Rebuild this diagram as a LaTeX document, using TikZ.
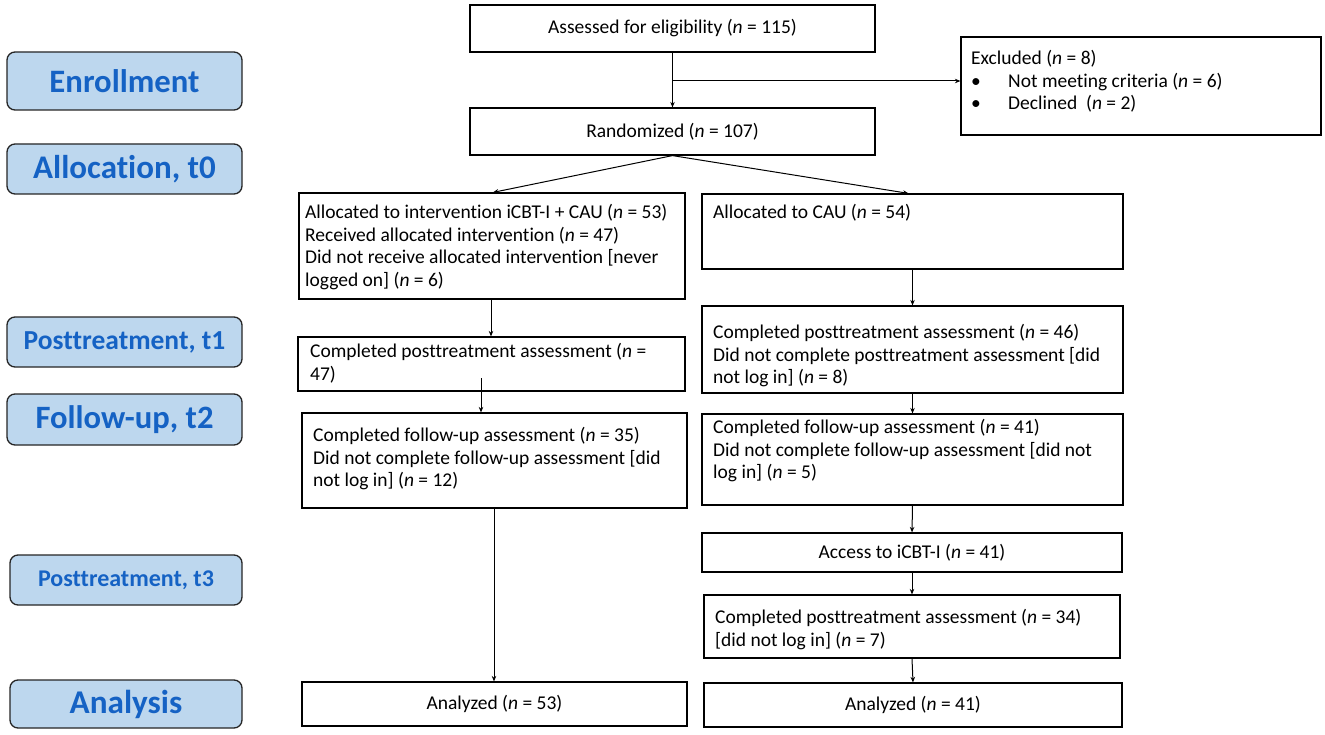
\documentclass[tikz,border=0pt]{standalone}
\usepackage{fontspec}
\setmainfont{Carlito}[Ligatures=NoCommon]
\usetikzlibrary{arrows.meta}
\definecolor{lblfill}{HTML}{BDD7EE}
\definecolor{lbltext}{HTML}{1562C4}
\definecolor{lbldraw}{HTML}{262626}
\newcommand\flowbox[5]{\node[box, minimum width={(#4-#2)*1pt}, minimum height={(#5-#3)*1pt}] (#1) at ({(#2+#4)/2},{(#3+#5)/2})}
\newcommand\lblbox[7]{\node[lbl, minimum width={(#4-#2)*1pt}, minimum height={(#5-#3)*1pt}, font=\fontsize{#6}{#6}\selectfont\bfseries] (#1) at ({(#2+#4)/2},{(#3+#5)/2}) {#7};}
\newcommand\nn{\textit{n}}
\begin{document}
\begin{tikzpicture}[x=1pt,y=-1pt,
  box/.style={draw, line width=1.2pt, inner sep=0pt, font=\fontsize{19.5}{22.5}\selectfont},
  txt/.style={inner sep=0pt, align=left, anchor=north west, font=\fontsize{19.5}{22.5}\selectfont},
  lbl/.style={draw=lbldraw, fill=lblfill, rounded corners=8pt, line width=1.3pt, text=lbltext, inner sep=0pt},
  arr/.style={-{Stealth[length=5.5pt,width=4.5pt]}, line width=1pt}]
\useasboundingbox (0,0) rectangle (1325,735);
\fill[white] (0,0) rectangle (1325,735);
% stage labels
\lblbox{enr}{7}{52}{242}{110}{32.7}{Enrollment}
\lblbox{alo}{7}{144}{242}{194}{33}{Allocation, t0}
\lblbox{pt1}{7}{317}{242}{367}{27.5}{Posttreatment, t1}
\lblbox{fu2}{7}{394}{242}{445}{32.6}{Follow-up, t2}
\lblbox{pt3}{10}{555}{242}{605}{24}{Posttreatment, t3}
\lblbox{ana}{10}{680}{242}{728}{33.2}{Analysis}
% boxes
\flowbox{assess}{470}{5}{875}{52}{Assessed for eligibility (\nn{} = 115)};
\flowbox{excl}{961}{37}{1321}{135}{};
\node[txt] (exclt) at (971,50.5) {Excluded (\nn{} = 8)\\
  \makebox[37pt][l]{\textbullet}Not meeting criteria (\nn{} = 6)\\
  \makebox[37pt][l]{\textbullet}Declined\ \ (\nn{} = 2)};
\flowbox{rand}{470}{108}{875}{155}{Randomized (\nn{} = 107)};
\flowbox{allocL}{299}{193}{685}{299}{};
\node[txt] (allocLt) at (305,204.5) {Allocated to intervention iCBT-I + CAU (\nn{} = 53)\\
  Received allocated intervention (\nn{} = 47)\\
  Did not receive allocated intervention {[}never\\
  logged on] (\nn{} = 6)};
\flowbox{allocR}{702}{194}{1123}{269}{};
\node[txt] (allocRt) at (713,204.5) {Allocated to CAU (\nn{} = 54)};
\flowbox{postL}{298}{337}{685}{391}{};
\node[txt] (postLt) at (310,343.5) {Completed posttreatment assessment (\nn{} =\\ 47)};
\flowbox{postR}{702}{306}{1123}{393}{};
\node[txt] (postRt) at (713,324.5) {Completed posttreatment assessment (\nn{} = 46)\\
  Did not complete posttreatment assessment {[}did\\
  not log in] (\nn{} = 8)};
\flowbox{fuL}{302}{413}{687}{508}{};
\node[txt] (fuLt) at (313,427.5) {Completed follow-up assessment (\nn{} = 35)\\
  Did not complete follow-up assessment {[}did\\
  not log in] (\nn{} = 12)};
\flowbox{fuR}{702}{414}{1123}{505}{};
\node[txt] (fuRt) at (713,419.5) {Completed follow-up assessment (\nn{} = 41)\\
  Did not complete follow-up assessment {[}did not\\
  log in] (\nn{} = 5)};
\flowbox{access}{702}{533}{1122}{572}{Access to iCBT-I (\nn{} = 41)};
\flowbox{comp}{704}{595}{1120}{658}{};
\node[txt] (compt) at (715,609.5) {Completed posttreatment assessment (\nn{} = 34)\\
  {[}did not log in] (\nn{} = 7)};
\flowbox{anaL}{302}{682}{687}{726}{Analyzed (\nn{} = 53)};
\flowbox{anaR}{704}{683}{1122}{727}{Analyzed (\nn{} = 41)};
% connectors
\draw[arr] (assess.south) -- (rand.north);
\coordinate (branch) at (673,81);
\draw[arr] (branch) -- (branch -| excl.west);
\draw[arr] (rand.south) -- ([xshift=1pt]allocL.north);
\draw[arr] (rand.south) -- ([xshift=-4pt]allocR.north);
\draw[arr] ([xshift=-1pt]allocL.south) -- ([xshift=-1pt]allocL.south |- postL.north);
\coordinate (postLout) at (481,378);
\draw[arr] (postLout) -- (postLout |- fuL.north);
\coordinate (fuLout) at (494,508);
\draw[arr] (fuLout) -- (fuLout |- anaL.north);
\draw[arr] (allocR.south) -- (postR.north);
\draw[arr] (postR.south) -- (fuR.north);
\draw[arr] (fuR.south) -- (access.north);
\draw[arr] (access.south) -- (comp.north);
\draw[arr] (comp.south) -- (anaR.north);
\end{tikzpicture}
\end{document}
